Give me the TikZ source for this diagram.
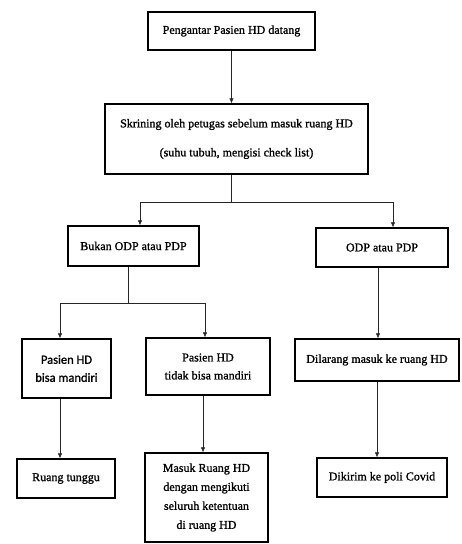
\documentclass[tikz,border=0pt]{standalone}
\usepackage{fontspec}
\setmainfont{Liberation Serif}[AutoFakeBold=1.2]
\newfontfamily\boxsans{Carlito}[AutoFakeBold=1.2]
\usetikzlibrary{arrows.meta}
\begin{document}
\begin{tikzpicture}[x=1pt,y=-1pt,
  box/.style={draw=black,line width=1.3pt,fill=white,inner sep=2pt,align=center,font=\bfseries\fontsize{12}{16}\selectfont},
  conn/.style={line width=0.6pt,draw=black!85},
  arr/.style={conn,-{Latex[length=5pt,width=4.5pt]}}]
\useasboundingbox (0,0) rectangle (462,544);
\node[box,minimum width=167pt,minimum height=38pt] (b1) at (231.5,31) {Pengantar Pasien HD datang};
\node[box,minimum width=263pt,minimum height=70pt,font=\bfseries\fontsize{12}{29}\selectfont] (b2) at (236.5,139) {Skrining oleh petugas sebelum masuk ruang HD\\(suhu tubuh, mengisi check list)};
\node[box,minimum width=131pt,minimum height=40pt] (b3) at (133.5,246) {Bukan ODP atau PDP};
\node[box,minimum width=132pt,minimum height=39pt] (b4) at (382,247.5) {ODP atau PDP};
\node[box,minimum width=89pt,minimum height=59pt,font=\boxsans\bfseries\fontsize{12.5}{18}\selectfont] (b5) at (66.5,368.5) {Pasien HD\\bisa mandiri};
\node[box,minimum width=124pt,minimum height=57pt,font=\bfseries\fontsize{12}{18}\selectfont] (b6) at (208,366.5) {Pasien HD\\tidak bisa mandiri};
\node[box,minimum width=164pt,minimum height=42pt] (b7) at (377,360) {Dilarang masuk ke ruang HD};
\node[box,minimum width=98pt,minimum height=39pt] (b8) at (66,478.5) {Ruang tunggu};
\node[box,minimum width=123pt,minimum height=89pt,font=\bfseries\fontsize{12}{19}\selectfont] (b9) at (206.5,497.5) {Masuk Ruang HD\\dengan mengikuti\\seluruh ketentuan\\di ruang HD};
\node[box,minimum width=130pt,minimum height=39pt] (b10) at (382,477.5) {Dikirim ke poli Covid};
% junctions
\coordinate (j1) at (231,202);
\coordinate (j1l) at (140,202);
\coordinate (j1r) at (393,202);
\coordinate (j2) at (128,303);
\coordinate (j2l) at (60,303);
\coordinate (j2r) at (205,303);
\draw[arr] (b1.south) -- (b1.south |- b2.north);
\draw[conn] (b2.south -| j1) -- (j1);
\draw[conn] (j1l) -- (j1r);
\draw[arr] (j1l) -- (j1l |- b3.north);
\draw[arr] (j1r) -- (j1r |- b4.north);
\draw[conn] (b3.south -| j2) -- (j2);
\draw[conn] (j2l) -- (j2r);
\draw[arr] (j2l) -- (j2l |- b5.north);
\draw[arr] (j2r) -- (j2r |- b6.north);
\coordinate (k1) at (378,0);
\draw[arr] (b4.south -| k1) -- (k1 |- b7.north);
\coordinate (k2) at (60,0);
\draw[arr] (b5.south -| k2) -- (k2 |- b8.north);
\coordinate (k3) at (203,0);
\draw[arr] (b6.south -| k3) -- (k3 |- b9.north);
\coordinate (k4) at (377,0);
\draw[arr] (b7.south -| k4) -- (k4 |- b10.north);
\end{tikzpicture}
\end{document}
